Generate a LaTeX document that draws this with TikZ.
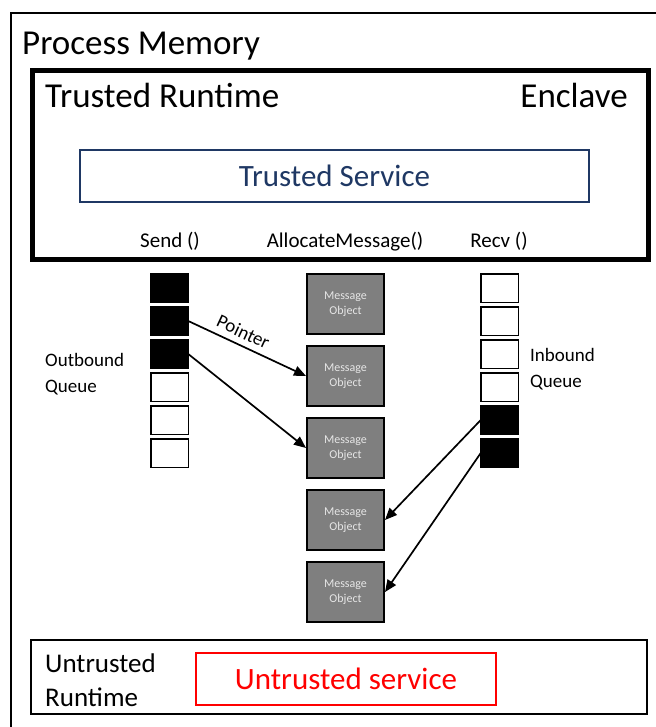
\documentclass[tikz,border=0pt]{standalone}
\usepackage{fontspec}
\setmainfont{Carlito}
\usetikzlibrary{arrows.meta}
\definecolor{navy}{HTML}{1F3864}
\definecolor{msggray}{HTML}{7F7F7F}
\definecolor{msgtext}{HTML}{E6E6E6}
\definecolor{untrustred}{HTML}{FF0000}
\begin{document}
\begin{tikzpicture}[x=1pt,y=-1pt,
  slot/.style={draw=black,line width=1.5pt,minimum width=37.5pt,minimum height=28.5pt,inner sep=0pt,outer sep=0pt},
  full/.style={slot,fill=black},
  empty/.style={slot,fill=white},
  msg/.style={draw=black,line width=2pt,fill=msggray,minimum width=77pt,minimum height=60pt,inner sep=0pt,text=msgtext,font=\fontsize{12}{15}\selectfont,align=center},
  ptr/.style={line width=1.7pt,-{Triangle[length=12pt,width=10pt]}},
  fnlabel/.style={font=\fontsize{21}{25}\selectfont,inner sep=0pt},
  qlabel/.style={font=\fontsize{19}{26}\selectfont,align=left,inner sep=0pt},
  bigtext/.style={font=\fontsize{35}{42}\selectfont,inner sep=0pt}
]
\useasboundingbox (0,0) rectangle (655,727);

% process memory (region partly beyond the page)
\draw[line width=1.5pt] (11,760) -- (11,13) -- (680,13);
\node[bigtext,anchor=base west] (pm) at (22,55) {Process Memory};

% enclave
\node[draw,line width=5pt,minimum width=616pt,minimum height=189pt,inner sep=0pt,anchor=north west] (enclave) at (30,68) {};
\node[bigtext,anchor=base west] (trt) at (45,108) {Trusted Runtime};
\node[bigtext,anchor=base east] (enc) at (628,108) {Enclave};
\node[draw=navy,line width=1.5pt,minimum width=509pt,minimum height=52pt,inner sep=0pt,text=navy,font=\fontsize{31}{36}\selectfont] (ts) at (334.5,176) {Trusted Service};

\node[fnlabel] (send) at (170,241.5) {Send ()};
\node[fnlabel] (alloc) at (345,241.5) {AllocateMessage()};
\node[fnlabel] (recv) at (499,241.5) {Recv ()};

% outbound queue
\node[full]  (o1) at (169.5,288) {};
\node[full]  (o2) at (169.5,321) {};
\node[full]  (o3) at (169.5,354) {};
\node[empty] (o4) at (169.5,387) {};
\node[empty] (o5) at (169.5,420) {};
\node[empty] (o6) at (169.5,453) {};
\node[qlabel,anchor=west] (outq) at (45,374) {Outbound\\Queue};

% inbound queue
\node[empty] (i1) at (499.5,288) {};
\node[empty] (i2) at (499.5,321) {};
\node[empty] (i3) at (499.5,354) {};
\node[empty] (i4) at (499.5,387) {};
\node[full]  (i5) at (499.5,420) {};
\node[full]  (i6) at (499.5,453) {};
\node[qlabel,anchor=west] (inq) at (530,369) {Inbound\\Queue};

% message objects
\node[msg] (m1) at (345.5,304) {Message\\Object};
\node[msg] (m2) at (345.5,376) {Message\\Object};
\node[msg] (m3) at (345.5,448) {Message\\Object};
\node[msg] (m4) at (345.5,520) {Message\\Object};
\node[msg] (m5) at (345.5,592) {Message\\Object};

% pointers
\draw[ptr] (o2.east) -- node[pos=0.42,sloped,above=6pt,font=\fontsize{19}{22}\selectfont,inner sep=0pt] (ptrlabel) {Pointer} (m2.west);
\draw[ptr] (o3.east) -- (m3.west);
\draw[ptr] (i5.west) -- (m4.east);
\draw[ptr] (i6.west) -- (m5.east);

% untrusted runtime
\node[draw,line width=1.5pt,minimum width=616pt,minimum height=74pt,inner sep=0pt,anchor=north west] (urt) at (30,639) {};
\node[font=\fontsize{27}{34}\selectfont,align=left,inner sep=0pt,anchor=west] (urtlabel) at (45,680.5) {Untrusted\\Runtime};
\node[draw=untrustred,line width=1.5pt,minimum width=300pt,minimum height=52pt,inner sep=0pt,text=untrustred,font=\fontsize{31}{36}\selectfont] (us) at (346,679) {Untrusted service};
\end{tikzpicture}
\end{document}
